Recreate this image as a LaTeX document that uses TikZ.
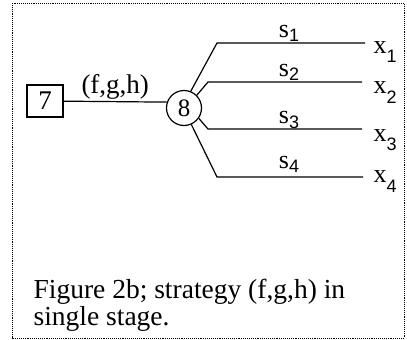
\documentclass[tikz,border=0pt]{standalone}
\usepackage{fontspec}
\setmainfont{Liberation Serif}
\setsansfont{Liberation Sans}
\newcommand{\lowsub}[2]{\raisebox{-#1pt}{\fontsize{18}{18}\sffamily #2}}
\begin{document}
\begin{tikzpicture}[x=1pt, y=-1pt, line width=1.2pt,
		every node/.style={font=\fontsize{26}{26}\selectfont},
		leafbox/.style={draw, minimum width=36pt, minimum height=32pt, inner sep=0pt},
		chancenode/.style={draw, circle, minimum size=35pt, inner sep=0pt},
		stratlabel/.style={anchor=base, inner sep=0pt},
		outlabel/.style={anchor=base west, inner sep=0pt}]
	% 1. outer frame
	\useasboundingbox (0,0) rectangle (407,340);
	\draw[densely dotted, line width=0.9pt] (12,3) rectangle (404,338);
	
	% 2. box and circle
	\node[leafbox, font=\fontsize{27}{27}\selectfont] (n7) at (45,101) {7};
	\node[chancenode, font=\fontsize{25}{25}\selectfont] (n8) at (184,108) {8};
	\draw (n7) -- (n8.161) node[midway, above=2pt, inner sep=0pt,
		font=\fontsize{27}{27}\selectfont] (fgh) {(f,g,h)};
	
	% 3. branch corners and ends
	\coordinate (c1) at (217,43);  \coordinate (e1) at (365,43);
	\coordinate (c2) at (208,82);  \coordinate (e2) at (362,82);
	\coordinate (c3) at (208,129); \coordinate (e3) at (362,129);
	\coordinate (c4) at (217,177); \coordinate (e4) at (363,177);
	
	\draw (n8.68) -- (c1) -- (e1);
	\draw (n8.45) -- (c2) -- (e2);
	\draw (n8.-35) -- (c3) -- (e3);
	\draw (n8.-66) -- (c4) -- (e4);
	
	% 4. branch labels
	\node[stratlabel] (s1) at (289,37) {s\lowsub{4}{1}};
	\node[stratlabel] (s2) at (289,76) {s\lowsub{4}{2}};
	\node[stratlabel] (s3) at (289,123) {s\lowsub{5}{3}};
	\node[stratlabel] (s4) at (289,168) {s\lowsub{4}{4}};
	
	\node[outlabel] (x1) at (373,53) {x\lowsub{9}{1}};
	\node[outlabel] (x2) at (373,93) {x\lowsub{10}{2}};
	\node[outlabel] (x3) at (373,141) {x\lowsub{9}{3}};
	\node[outlabel] (x4) at (373,182) {x\lowsub{10}{4}};
	
	% 5. caption
	\node[anchor=base west, inner sep=0pt, align=left,
		font=\fontsize{27.5}{27}\selectfont] (cap) at (33,325)
		{Figure 2b; strategy (f,g,h) in\\single stage.};
\end{tikzpicture}
\end{document}
